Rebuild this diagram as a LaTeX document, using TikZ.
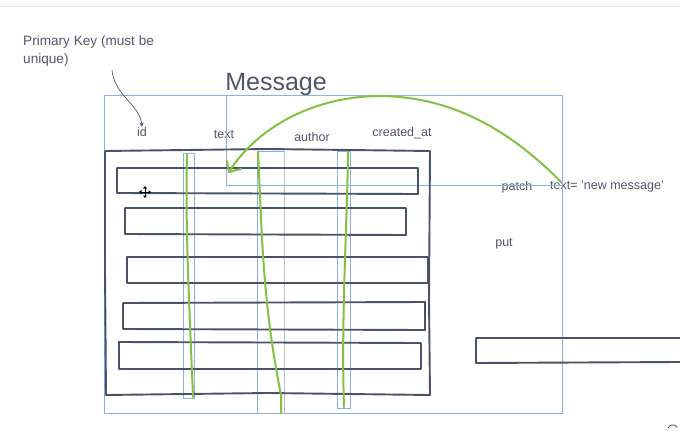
\documentclass[tikz,border=0pt]{standalone}
\usepackage{fontspec}
\setmainfont{Liberation Sans}
\usetikzlibrary{arrows.meta}
\definecolor{txt}{HTML}{50566A}
\definecolor{slate}{HTML}{4A5269}
\definecolor{lblue}{HTML}{8EAEE6}
\definecolor{grn}{HTML}{84C043}
\tikzset{
  lbl/.style={text=txt, font=\fontsize{12.5}{15}\selectfont, inner sep=0pt},
  thinblue/.style={draw=lblue, line width=0.8pt},
  handbox/.style={draw=slate, line width=1.9pt, line join=round},
  greenline/.style={draw=grn, line width=2pt, line cap=round},
}
\begin{document}
\begin{tikzpicture}[x=1pt,y=-1pt]
\useasboundingbox (0,0) rectangle (680,431);
% top separator
\draw[black!10, line width=0.8pt] (0,6) -- (680,6);
% labels
\node[lbl, anchor=north west, align=left, font=\fontsize{13.6}{18}\selectfont] (pk) at (23,35) {Primary Key (must be\\unique)};
\node[text=txt, font=\fontsize{25}{28}\selectfont, inner sep=0pt] (msg) at (276,84) {Message};
\node[lbl] (id) at (142,132) {id};
\node[lbl] (ctext) at (224,135) {text};
\node[lbl] (author) at (312,137) {author};
\node[lbl] (created) at (402,133) {created\_at};
\node[lbl] (patch) at (517,187) {patch};
\node[lbl] (newmsg) at (607,186) {text= 'new message'};
\node[lbl] (put) at (504,244) {put};
% thin blue frames
\draw[thinblue] (104,95) rectangle (562,413);
\draw[thinblue] (226,95) rectangle (562,185);
\draw[thinblue] (183,153) rectangle (194,398);
\draw[thinblue] (257,151) -- (257,413);
\draw[black!25, line width=0.8pt] (284,151) -- (284,413);
\draw[thinblue] (257,151) -- (284,151);
\draw[thinblue] (337,151) rectangle (350,408);
% table outline
\draw[handbox] (105,151) -- (268,149) -- (430,151) -- (429,300) -- (430,395) -- (268,393) -- (106,395) -- (105,270) -- cycle;
% rows
\draw[handbox] (117,168) -- (418,168) -- (418,194) -- (117,193) -- cycle;
\draw[handbox] (125,208) -- (406,208) -- (406,235) -- (125,234) -- cycle;
\draw[handbox] (127,257) -- (428,257) -- (428,283) -- (127,283) -- cycle;
\draw[handbox] (123,303) -- (425,302) -- (425,330) -- (123,329) -- cycle;
\draw[handbox] (119,342) -- (421,343) -- (421,369) -- (119,369) -- cycle;
% extra row at right
\draw[handbox] (680,338) -- (476,338) -- (476,363) -- (680,362);
% green column marks
\draw[greenline] (187,154) .. controls (185,230) and (190,320) .. (193,397);
\draw[greenline] (258,152) .. controls (262,230) and (262,300) .. (281,395) -- (281,413);
\draw[greenline] (348,152) .. controls (347,230) and (341,320) .. (344,407);
% primary key arrow
\coordinate (pkstart) at (112,70);
\draw[txt, line width=0.7pt, -{Stealth[length=5pt,width=4pt]}] (pkstart) .. controls (114,95) and (140,105) .. (id.north);
% big green arrow
\coordinate (tgt) at (229,172);
\draw[greenline] (newmsg.west) ++(11,-4) coordinate (src)
  .. controls (500,120) and (440,96) .. (378,96)
  .. controls (310,97) and (255,130) .. (tgt);
\draw[greenline] (tgt) -- (227,161);
\draw[greenline] (tgt) -- (241,169);
% move cursor
\begin{scope}[shift={(145,192)}]
\draw[black, line width=1pt] (-5,0) -- (5,0) (0,-5) -- (0,5);
\fill[black] (-6,0) -- (-3.5,-2) -- (-3.5,2) -- cycle;
\fill[black] (6,0) -- (3.5,-2) -- (3.5,2) -- cycle;
\fill[black] (0,-6) -- (-2,-3.5) -- (2,-3.5) -- cycle;
\fill[black] (0,6) -- (-2,3.5) -- (2,3.5) -- cycle;
\end{scope}
% corner arc
\draw[black!70, line width=0.8pt] (668,428) arc (200:330:5);
\end{tikzpicture}
\end{document}
